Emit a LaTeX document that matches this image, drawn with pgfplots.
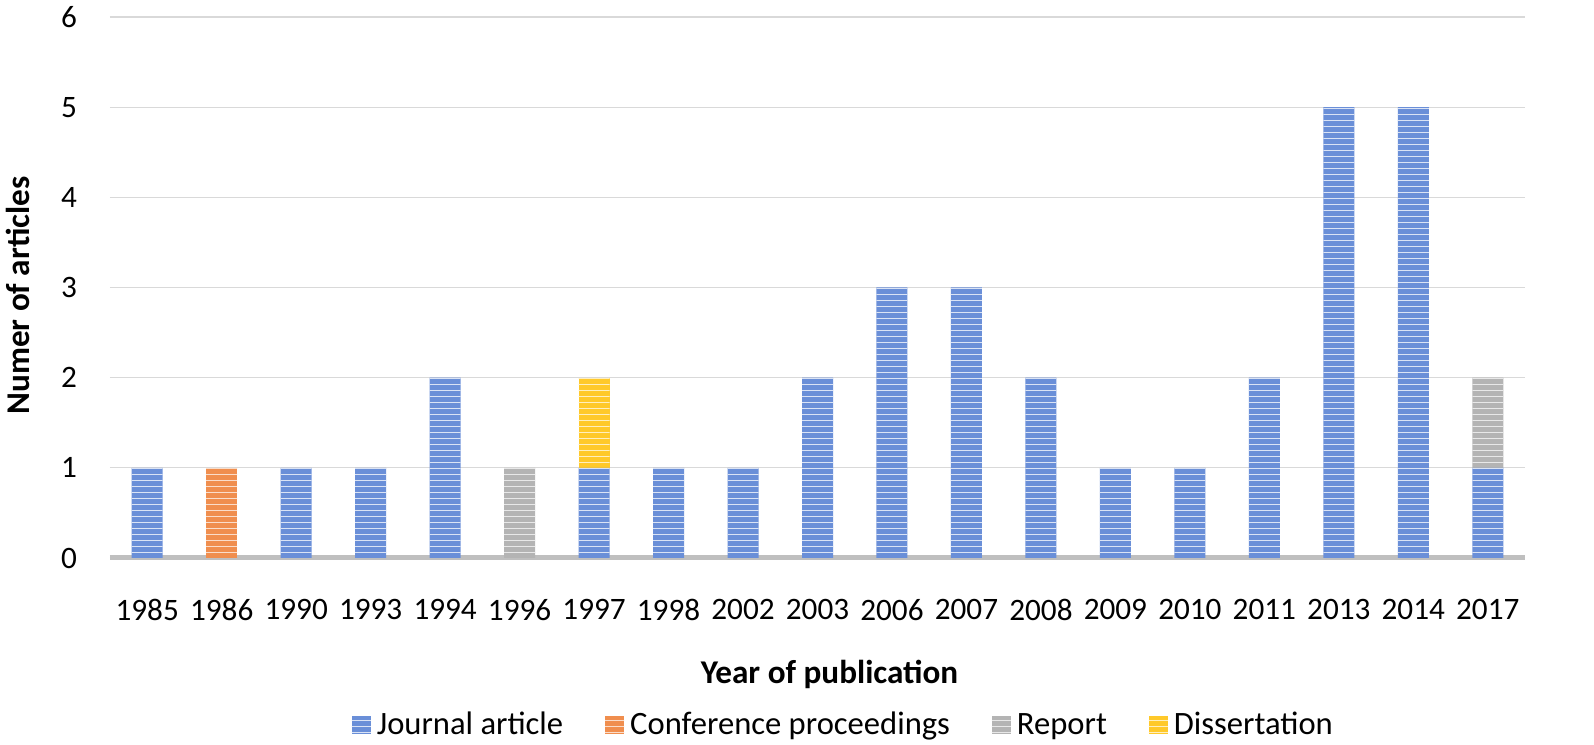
\documentclass[border=0pt]{standalone}
\usepackage{fontspec}
\setmainfont{Carlito}
\usepackage{pgfplots}
\pgfplotsset{compat=1.18}
\usetikzlibrary{patterns}

\definecolor{cjour}{HTML}{6A8FD8}
\definecolor{cconf}{HTML}{F08E4E}
\definecolor{crep}{HTML}{B4B4B4}
\definecolor{cdiss}{HTML}{FFC92A}
\definecolor{gridc}{HTML}{D9D9D9}
\definecolor{basec}{HTML}{BFBFBF}

% year index: 0=1985 ... 18=2017
\pgfplotstableread{
x J C R D
0  1 0 0 0
1  0 1 0 0
2  1 0 0 0
3  1 0 0 0
4  2 0 0 0
5  0 0 1 0
6  1 0 0 1
7  1 0 0 0
8  1 0 0 0
9  2 0 0 0
10 3 0 0 0
11 3 0 0 0
12 2 0 0 0
13 1 0 0 0
14 1 0 0 0
15 2 0 0 0
16 5 0 0 0
17 5 0 0 0
18 1 0 1 0
}\counts

\begin{document}
\begin{tikzpicture}
\begin{axis}[
    name=ax,
    scale only axis,
    width=707.5pt, height=270.5pt,
    ybar stacked, bar width=15.5pt,
    xmin=-0.5, xmax=18.5,
    ymin=0, ymax=6, ytick={0,1,...,6},
    xtick=data,
    xticklabels={1985,1986,1990,1993,1994,1996,1997,1998,2002,2003,2006,2007,2008,2009,2010,2011,2013,2014,2017},
    axis x line*=bottom, axis y line*=left,
    y axis line style={draw=none},
    x axis line style={draw=basec, line width=2.5pt, -},
    major tick length=0pt,
    ymajorgrids, grid style={draw=gridc, line width=0.6pt},
    tick label style={font=\fontsize{15.6}{18}\selectfont},
    label style={font=\fontsize{16.6}{19}\selectfont\bfseries},
    /pgf/number format/assume math mode=true,
    yticklabel style={xshift=-13pt},
    xticklabel style={yshift=-17pt},
    xlabel={Year of publication},
    ylabel={Numer of articles},
    xlabel style={yshift=-13pt, xshift=6pt},
    ylabel style={yshift=9pt, xshift=-4pt},
    legend columns=4,
    legend style={at={(0.519,-0.309)}, anchor=center, draw=none,
        /tikz/every odd column/.append style={column sep=1pt},
        /tikz/every even column/.append style={column sep=19pt},
        font=\fontsize{16.3}{19}\selectfont},
    legend image code/.code={\fill[#1] (0pt,-4.5pt) rectangle (9.5pt,4.5pt);},
    every axis plot/.append style={draw=none},
]
\addplot[fill=cjour, postaction={pattern=horizontal lines, pattern color=white!75!cjour}] table[x=x, y=J] {\counts};
\addplot[fill=cconf, postaction={pattern=horizontal lines, pattern color=white!70!cconf}] table[x=x, y=C] {\counts};
\addplot[fill=crep, postaction={pattern=horizontal lines, pattern color=white!70!crep}] table[x=x, y=R] {\counts};
\addplot[fill=cdiss, postaction={pattern=horizontal lines, pattern color=white!70!cdiss}] table[x=x, y=D] {\counts};
\legend{Journal article, Conference proceedings, Report, Dissertation}
\end{axis}
\pgfresetboundingbox
\path[use as bounding box] (ax.south west) ++(-55pt,-93.5pt) rectangle ([shift={(34.5pt,8.5pt)}]ax.north east);
\end{tikzpicture}
\end{document}
